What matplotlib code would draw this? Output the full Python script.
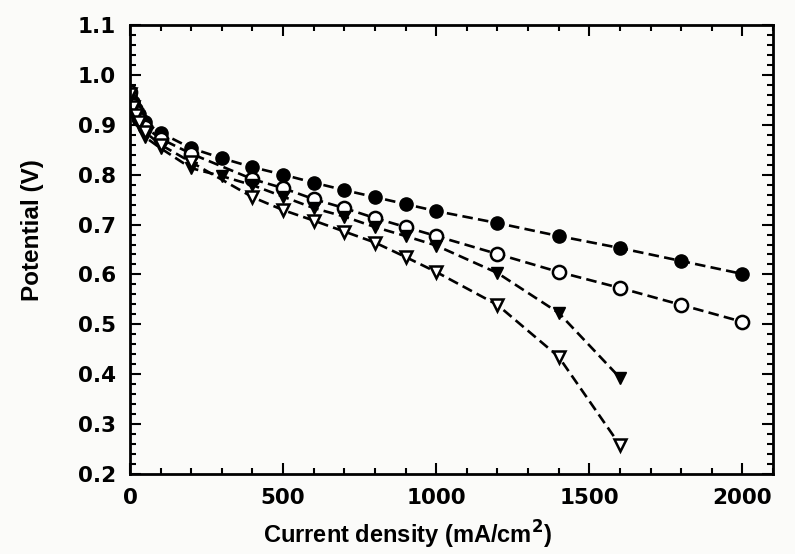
import numpy as np
import matplotlib.pyplot as plt
from matplotlib.ticker import MultipleLocator

# current density (mA/cm2) and potential (V) for the four cells
x_fc = [0, 10, 20, 30, 50, 100, 200, 300, 400, 500, 600, 700, 800, 900, 1000, 1200, 1400, 1600, 1800, 2000]
y_fc = [0.960, 0.945, 0.932, 0.922, 0.905, 0.884, 0.853, 0.833, 0.815, 0.800, 0.784, 0.769, 0.755, 0.741,
        0.727, 0.703, 0.677, 0.653, 0.627, 0.601]

x_oc = [0, 10, 20, 30, 50, 100, 200, 400, 500, 600, 700, 800, 900, 1000, 1200, 1400, 1600, 1800, 2000]
y_oc = [0.965, 0.940, 0.925, 0.912, 0.895, 0.872, 0.842, 0.791, 0.773, 0.751, 0.733, 0.713, 0.695, 0.677,
        0.641, 0.605, 0.573, 0.539, 0.505]

x_ft = [0, 10, 20, 30, 50, 100, 200, 300, 400, 500, 600, 700, 800, 900, 1000, 1200, 1400, 1600]
y_ft = [0.955, 0.930, 0.915, 0.900, 0.875, 0.853, 0.813, 0.797, 0.779, 0.756, 0.733, 0.716, 0.695, 0.677,
        0.658, 0.603, 0.523, 0.393]

x_ot = [0, 10, 20, 30, 50, 100, 200, 400, 500, 600, 700, 800, 900, 1000, 1200, 1400, 1600]
y_ot = [0.962, 0.935, 0.920, 0.905, 0.885, 0.860, 0.825, 0.755, 0.729, 0.708, 0.686, 0.664, 0.635, 0.605,
        0.539, 0.435, 0.258]

fig = plt.figure(figsize=(7.95, 5.54), dpi=100, facecolor='#fbfbf9')
ax = fig.add_axes([0.1635, 0.1444, 0.8088, 0.8105])
ax.set_facecolor('#fbfbf9')

dash = (0, (4, 2))
ax.plot(x_fc, y_fc, color='k', ls=dash, lw=1.9, marker='o', ms=9.5, mfc='k', mec='k')
ax.plot(x_oc, y_oc, color='k', ls=dash, lw=1.9, marker='o', ms=9.5, mfc='white', mec='k', mew=1.8)
ax.plot(x_ft, y_ft, color='k', ls=dash, lw=1.9, marker='v', ms=9, mfc='k', mec='k')
ax.plot(x_ot, y_ot, color='k', ls=dash, lw=1.9, marker='v', ms=9, mfc='white', mec='k', mew=1.8)

ax.set_xlim(0, 2100)
ax.set_ylim(0.2, 1.1)
ax.xaxis.set_major_locator(MultipleLocator(500))
ax.xaxis.set_minor_locator(MultipleLocator(100))
ax.yaxis.set_major_locator(MultipleLocator(0.1))
ax.yaxis.set_minor_locator(MultipleLocator(0.02))
ax.yaxis.set_major_formatter(plt.FuncFormatter(lambda v, p: '%.1f' % v))
ax.tick_params(which='both', direction='in', top=True, right=True, width=1.5)
ax.tick_params(which='major', length=8, labelsize=15.5, pad=10)
ax.tick_params(which='minor', length=4)
for lab in ax.get_xticklabels() + ax.get_yticklabels():
    lab.set_fontweight('bold')
for s in ax.spines.values():
    s.set_linewidth(2)

ax.set_xlabel('Current density (mA/cm$^\\mathbf{2}$)', fontsize=17, fontweight='bold',
              family='Liberation Sans')
ax.set_ylabel('Potential (V)', fontsize=17.5, fontweight='bold', family='Liberation Sans')
ax.xaxis.set_label_coords(0.431, -0.1)
ax.yaxis.set_label_coords(-0.134, 0.543)

fig.savefig('out.png', dpi=100, facecolor=fig.get_facecolor())
